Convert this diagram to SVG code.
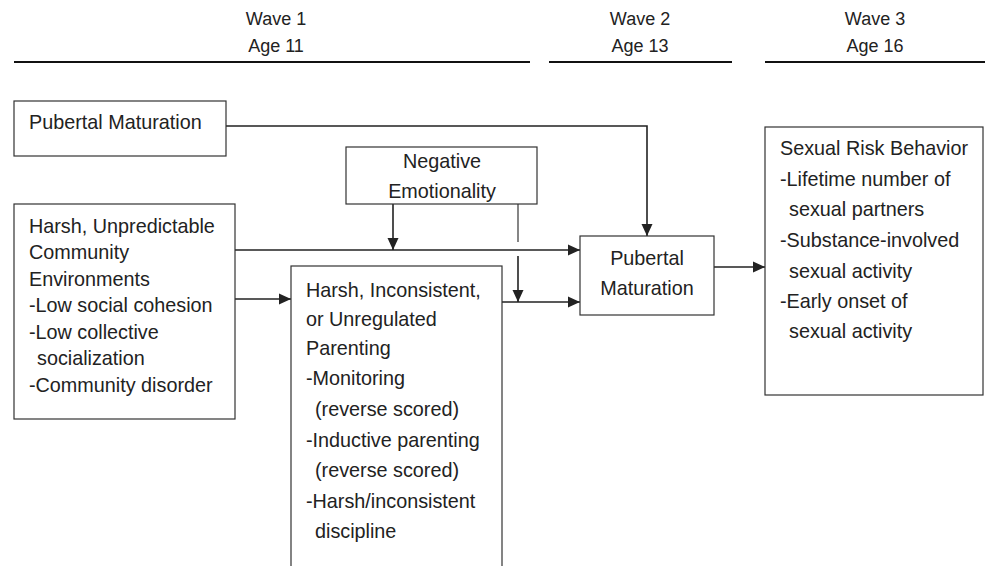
<svg xmlns="http://www.w3.org/2000/svg" width="985" height="566" viewBox="0 0 985 566">
<defs>
<style>
text{font-family:"Liberation Sans",Arial,sans-serif;font-size:19.8px;fill:#222}
.hdr{font-size:18px;text-anchor:middle}
.mid{text-anchor:middle}
.box{fill:#fff;stroke:#333;stroke-width:1.2}
.rule{stroke:#111;stroke-width:2.2}
.con{fill:none;stroke:#222;stroke-width:1.6}
.thin{fill:none;stroke:#222;stroke-width:1.1}
</style>
<marker id="ah" markerUnits="userSpaceOnUse" markerWidth="13" markerHeight="12" refX="12" refY="6" orient="auto">
<path d="M0,0.5 L12,6 L0,11.5 z" fill="#222"/>
</marker>
</defs>
<rect width="985" height="566" fill="#fff"/>
<g id="header">
<text class="hdr" x="276" y="25">Wave 1</text>
<text class="hdr" x="276" y="52">Age 11</text>
<text class="hdr" x="640" y="25">Wave 2</text>
<text class="hdr" x="640" y="52">Age 13</text>
<text class="hdr" x="875" y="25">Wave 3</text>
<text class="hdr" x="875" y="52">Age 16</text>
<line class="rule" x1="14" y1="62" x2="530" y2="62"/>
<line class="rule" x1="549" y1="62" x2="732" y2="62"/>
<line class="rule" x1="765" y1="62" x2="985" y2="62"/>
</g>
<g id="connectors">
<path class="con" d="M226,126 H647 V236" marker-end="url(#ah)"/>
<path class="con" d="M235,250 H580" marker-end="url(#ah)"/>
<path class="con" d="M235,299 H291" marker-end="url(#ah)"/>
<path class="con" d="M502,302 H580" marker-end="url(#ah)"/>
<path class="con" d="M393,204 V250" marker-end="url(#ah)"/>
<path class="thin" d="M518,204 V242"/>
<path class="con" d="M518,256 V302" marker-end="url(#ah)"/>
<path class="con" d="M714,267 H765" marker-end="url(#ah)"/>
</g>
<g id="pubertal-w1">
<rect class="box" x="14" y="101" width="212" height="55"/>
<text x="29" y="129">Pubertal Maturation</text>
</g>
<g id="community">
<rect class="box" x="14" y="204" width="221" height="215"/>
<text x="29" y="233">Harsh, Unpredictable</text>
<text x="29" y="259">Community</text>
<text x="29" y="286">Environments</text>
<text x="29" y="312">-Low social cohesion</text>
<text x="29" y="339">-Low collective</text>
<text x="37" y="365">socialization</text>
<text x="29" y="392">-Community disorder</text>
</g>
<g id="negative-emotionality">
<rect class="box" x="346" y="147" width="191" height="57"/>
<text class="mid" x="442" y="168">Negative</text>
<text class="mid" x="442" y="198">Emotionality</text>
</g>
<g id="parenting">
<rect class="box" x="291" y="266" width="211" height="320"/>
<text x="306" y="297">Harsh, Inconsistent,</text>
<text x="306" y="326">or Unregulated</text>
<text x="306" y="355">Parenting</text>
<text x="306" y="385">-Monitoring</text>
<text x="315" y="416">(reverse scored)</text>
<text x="306" y="447">-Inductive parenting</text>
<text x="315" y="477">(reverse scored)</text>
<text x="306" y="508">-Harsh/inconsistent</text>
<text x="315" y="538">discipline</text>
</g>
<g id="pubertal-w2">
<rect class="box" x="580" y="236" width="134" height="79"/>
<text class="mid" x="647" y="265">Pubertal</text>
<text class="mid" x="647" y="295">Maturation</text>
</g>
<g id="sexual-risk">
<rect class="box" x="765" y="127" width="218" height="268"/>
<text x="780" y="155">Sexual Risk Behavior</text>
<text x="780" y="186">-Lifetime number of</text>
<text x="789" y="216">sexual partners</text>
<text x="780" y="247">-Substance-involved</text>
<text x="789" y="278">sexual activity</text>
<text x="780" y="308">-Early onset of</text>
<text x="789" y="338">sexual activity</text>
</g>
</svg>
